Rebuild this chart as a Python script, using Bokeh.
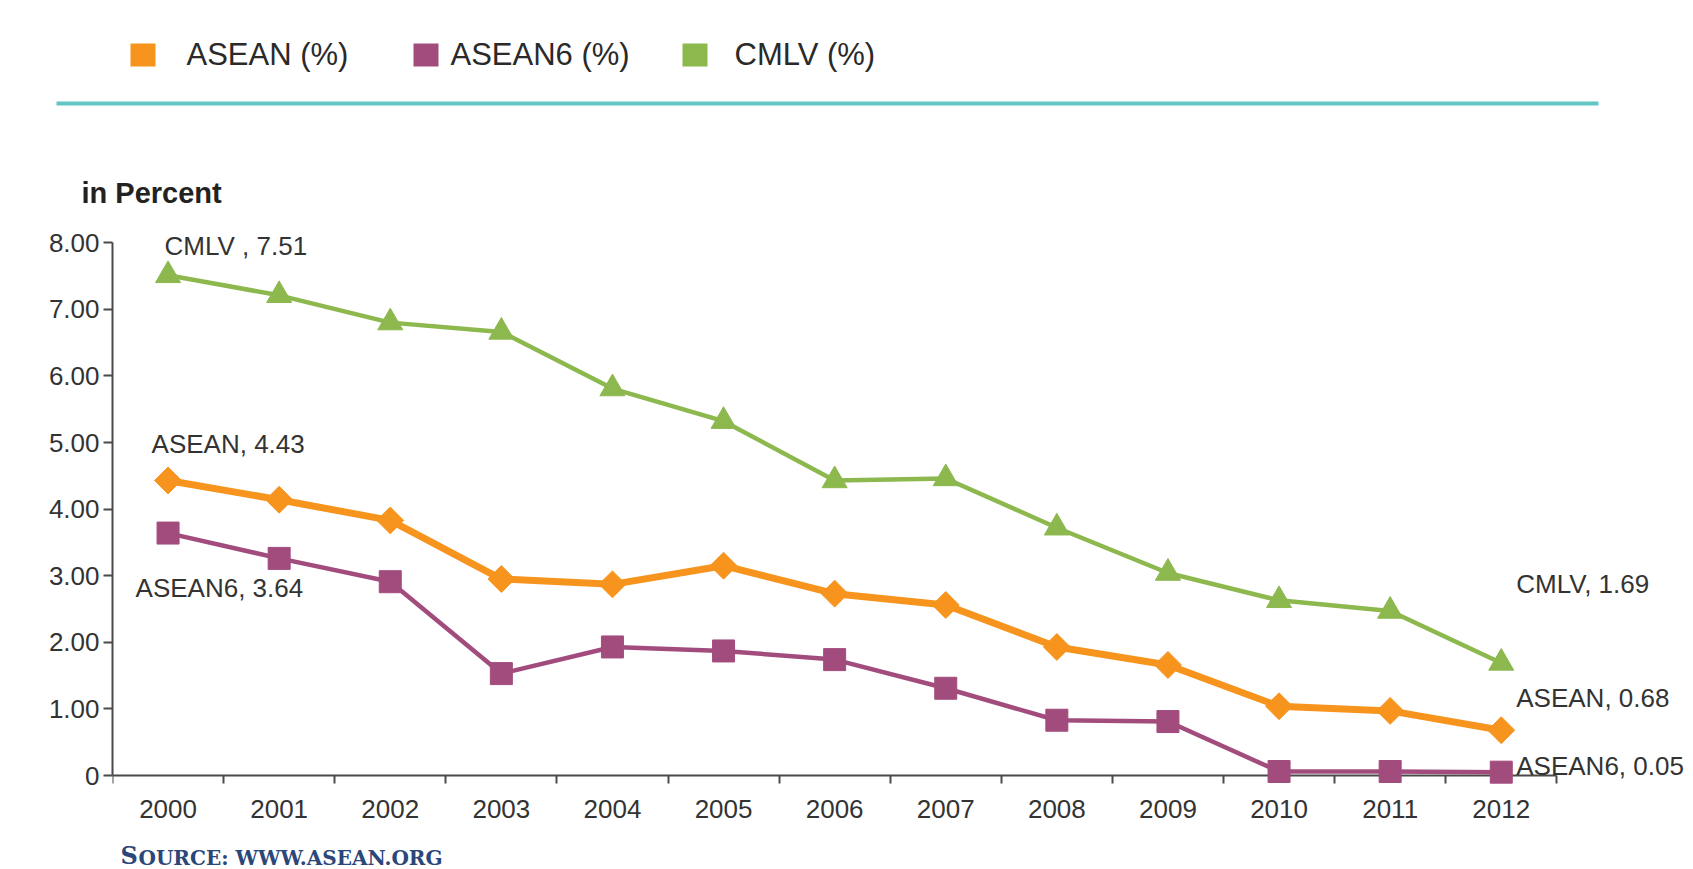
from bokeh.plotting import figure
from bokeh.models import Range1d, FixedTicker, Label, LinearAxis
from bokeh.layouts import column
from bokeh.core.properties import value
from bokeh.embed import file_html
from bokeh.resources import INLINE
import math

# ---------------- data ----------------
years = list(range(2000, 2013))
asean = [4.43, 4.14, 3.83, 2.95, 2.87, 3.15, 2.73, 2.56, 1.93, 1.66, 1.04, 0.97, 0.68]
asean6 = [3.64, 3.26, 2.91, 1.53, 1.93, 1.87, 1.74, 1.31, 0.83, 0.81, 0.06, 0.06, 0.05]
cmlv = [7.51, 7.21, 6.80, 6.66, 5.81, 5.32, 4.43, 4.46, 3.72, 3.04, 2.63, 2.47, 1.69]
y_ticks = [0, 1, 2, 3, 4, 5, 6, 7, 8]
y_tick_labels = ["0", "1.00", "2.00", "3.00", "4.00", "5.00", "6.00", "7.00", "8.00"]
series_names = ["ASEAN (%)", "ASEAN6 (%)", "CMLV (%)"]
y_title = "in Percent"
source_text = "SOURCE: WWW.ASEAN.ORG"

ORANGE = "#F7941E"
PURPLE = "#A24C7E"
GREEN = "#8CB84E"
TEAL = "#62C6C4"
TXT = "#333333"
FONT = "Liberation Sans"
AXC = "#4a4a4a"
SRC = "#2B4679"

W = 1693
TOP_H = 215      # header strip (legend, rule, axis title)
BOT_H = 29       # source strip
MAIN_H = 869 - TOP_H - BOT_H
BL, BB = 112, 50
PX_X = 111.1
PX_Y = 66.6
X0 = years[0] - 0.5
FRAME_H = MAIN_H - BB
Y_END = (775 - TOP_H) / PX_Y
Y_START = Y_END - FRAME_H / PX_Y


def no_align(f):
    if "frame_align" in f.properties():
        f.frame_align = False


def strip(h, y_top):
    f = figure(width=W, height=h, output_backend="svg", toolbar_location=None,
               x_range=Range1d(0, W), y_range=Range1d(y_top + h, y_top),
               min_border=0, x_axis_type=None, y_axis_type=None)
    f.outline_line_color = None
    f.grid.visible = False
    f.background_fill_color = "white"
    f.border_fill_color = "white"
    no_align(f)
    return f


# ---------------- header strip ----------------
top = strip(TOP_H, 0)
leg_colors = [ORANGE, PURPLE, GREEN]
sq_left = [130, 413, 682]
tx_left = [186, 450, 734]
top.quad(left=sq_left, right=[s + 25 for s in sq_left], top=[43] * 3, bottom=[66] * 3,
         fill_color=leg_colors, line_color=None)
top.text(x=tx_left, y=[54] * 3, text=series_names, text_font=value(FONT), text_font_size="31px",
         text_color="#2a2a2a", text_baseline="middle", text_align="left")
top.quad(left=[56], right=[1598], top=[101], bottom=[105], fill_color=TEAL, line_color=None)
top.text(x=[81], y=[192], text=[y_title], text_font=value(FONT), text_font_size="29px",
         text_font_style="bold", text_color="#222222", text_baseline="middle", text_align="left")

# ---------------- main chart ----------------
p = figure(width=W, height=MAIN_H, output_backend="svg", toolbar_location=None,
           x_range=Range1d(X0, X0 + (W - BL) / PX_X), y_range=Range1d(Y_START, Y_END),
           min_border_left=BL, min_border_right=0, min_border_top=0, min_border_bottom=BB,
           x_axis_type=None, y_axis_type=None)
p.outline_line_color = None
p.grid.visible = False
p.background_fill_color = "white"
p.border_fill_color = "white"
no_align(p)

# x axis labels (in the panel below the frame)
xl = LinearAxis(ticker=FixedTicker(ticks=years, minor_ticks=[]))
xl.major_label_overrides = {y: str(y) for y in years}
xl.axis_line_color = None
xl.major_tick_line_color = None
xl.minor_tick_line_color = None
xl.major_label_standoff = 3
xl.major_label_text_font = FONT
xl.major_label_text_font_size = "26px"
xl.major_label_text_color = TXT
p.add_layout(xl, "below")

# x axis line + boundary ticks at y = 0
xa = LinearAxis(ticker=FixedTicker(ticks=[], minor_ticks=[y - 0.5 for y in years] + [years[-1] + 0.5]),
                fixed_location=0, bounds=(years[0] - 0.5, years[-1] + 0.5), level="underlay")
xa.major_tick_out = 0
xa.major_tick_in = 0
xa.minor_tick_out = 8
xa.minor_tick_in = 0
xa.minor_tick_line_color = AXC
xa.minor_tick_line_width = 2
xa.axis_line_color = AXC
xa.axis_line_width = 2
xa.major_label_standoff = 0
p.add_layout(xa, "below")

# y axis
ya = LinearAxis(ticker=FixedTicker(ticks=y_ticks, minor_ticks=[]), bounds=(0, 8))
ya.major_label_overrides = {t: l for t, l in zip(y_ticks, y_tick_labels)}
ya.major_tick_out = 9
ya.major_tick_in = 0
ya.major_tick_line_color = AXC
ya.major_tick_line_width = 2
ya.axis_line_color = AXC
ya.axis_line_width = 2
ya.major_label_standoff = 4
ya.major_label_text_font = FONT
ya.major_label_text_font_size = "26px"
ya.major_label_text_color = TXT
p.add_layout(ya, "left")

# series
p.line(years, cmlv, line_width=4.5, color=GREEN)
p.scatter(years, cmlv, marker="triangle", size=25, color=GREEN)
p.line(years, asean6, line_width=4.5, color=PURPLE)
p.scatter(years, asean6, marker="square", size=22, color=PURPLE)
p.line(years, asean, line_width=7, color=ORANGE)
p.scatter(years, asean, marker="square", size=19, angle=math.pi / 4, color=ORANGE)


def lab(text, x, y, xo, yo):
    p.add_layout(Label(x=x, y=y, x_offset=xo, y_offset=yo, text=text, text_font=FONT,
                       text_font_size="26px", text_color=TXT,
                       text_baseline="middle", text_align="left"))


lab(f"CMLV , {cmlv[0]:.2f}", years[0], cmlv[0], -3.5, 29)
lab(f"ASEAN, {asean[0]:.2f}", years[0], asean[0], -16.5, 36)
lab(f"ASEAN6, {asean6[0]:.2f}", years[0], asean6[0], -32.5, -55)
lab(f"CMLV, {cmlv[-1]:.2f}", years[-1], cmlv[-1], 15, 79)
lab(f"ASEAN, {asean[-1]:.2f}", years[-1], asean[-1], 15, 32)
lab(f"ASEAN6, {asean6[-1]:.2f}", years[-1], asean6[-1], 15, 6)

# ---------------- source strip ----------------
bot = strip(BOT_H, 869 - BOT_H)
bot.text(x=[120], y=[855], text=[source_text[0]], text_font=value("DejaVu Serif"),
         text_font_size="24px", text_font_style="bold", text_color=SRC,
         text_baseline="middle", text_align="left")
bot.text(x=[138], y=[857], text=[source_text[1:]], text_font=value("DejaVu Serif"),
         text_font_size="20px", text_font_style="bold", text_color=SRC,
         text_baseline="middle", text_align="left")

layout = column(top, p, bot, spacing=0)
open("out.html", "w").write(file_html(layout, INLINE))
